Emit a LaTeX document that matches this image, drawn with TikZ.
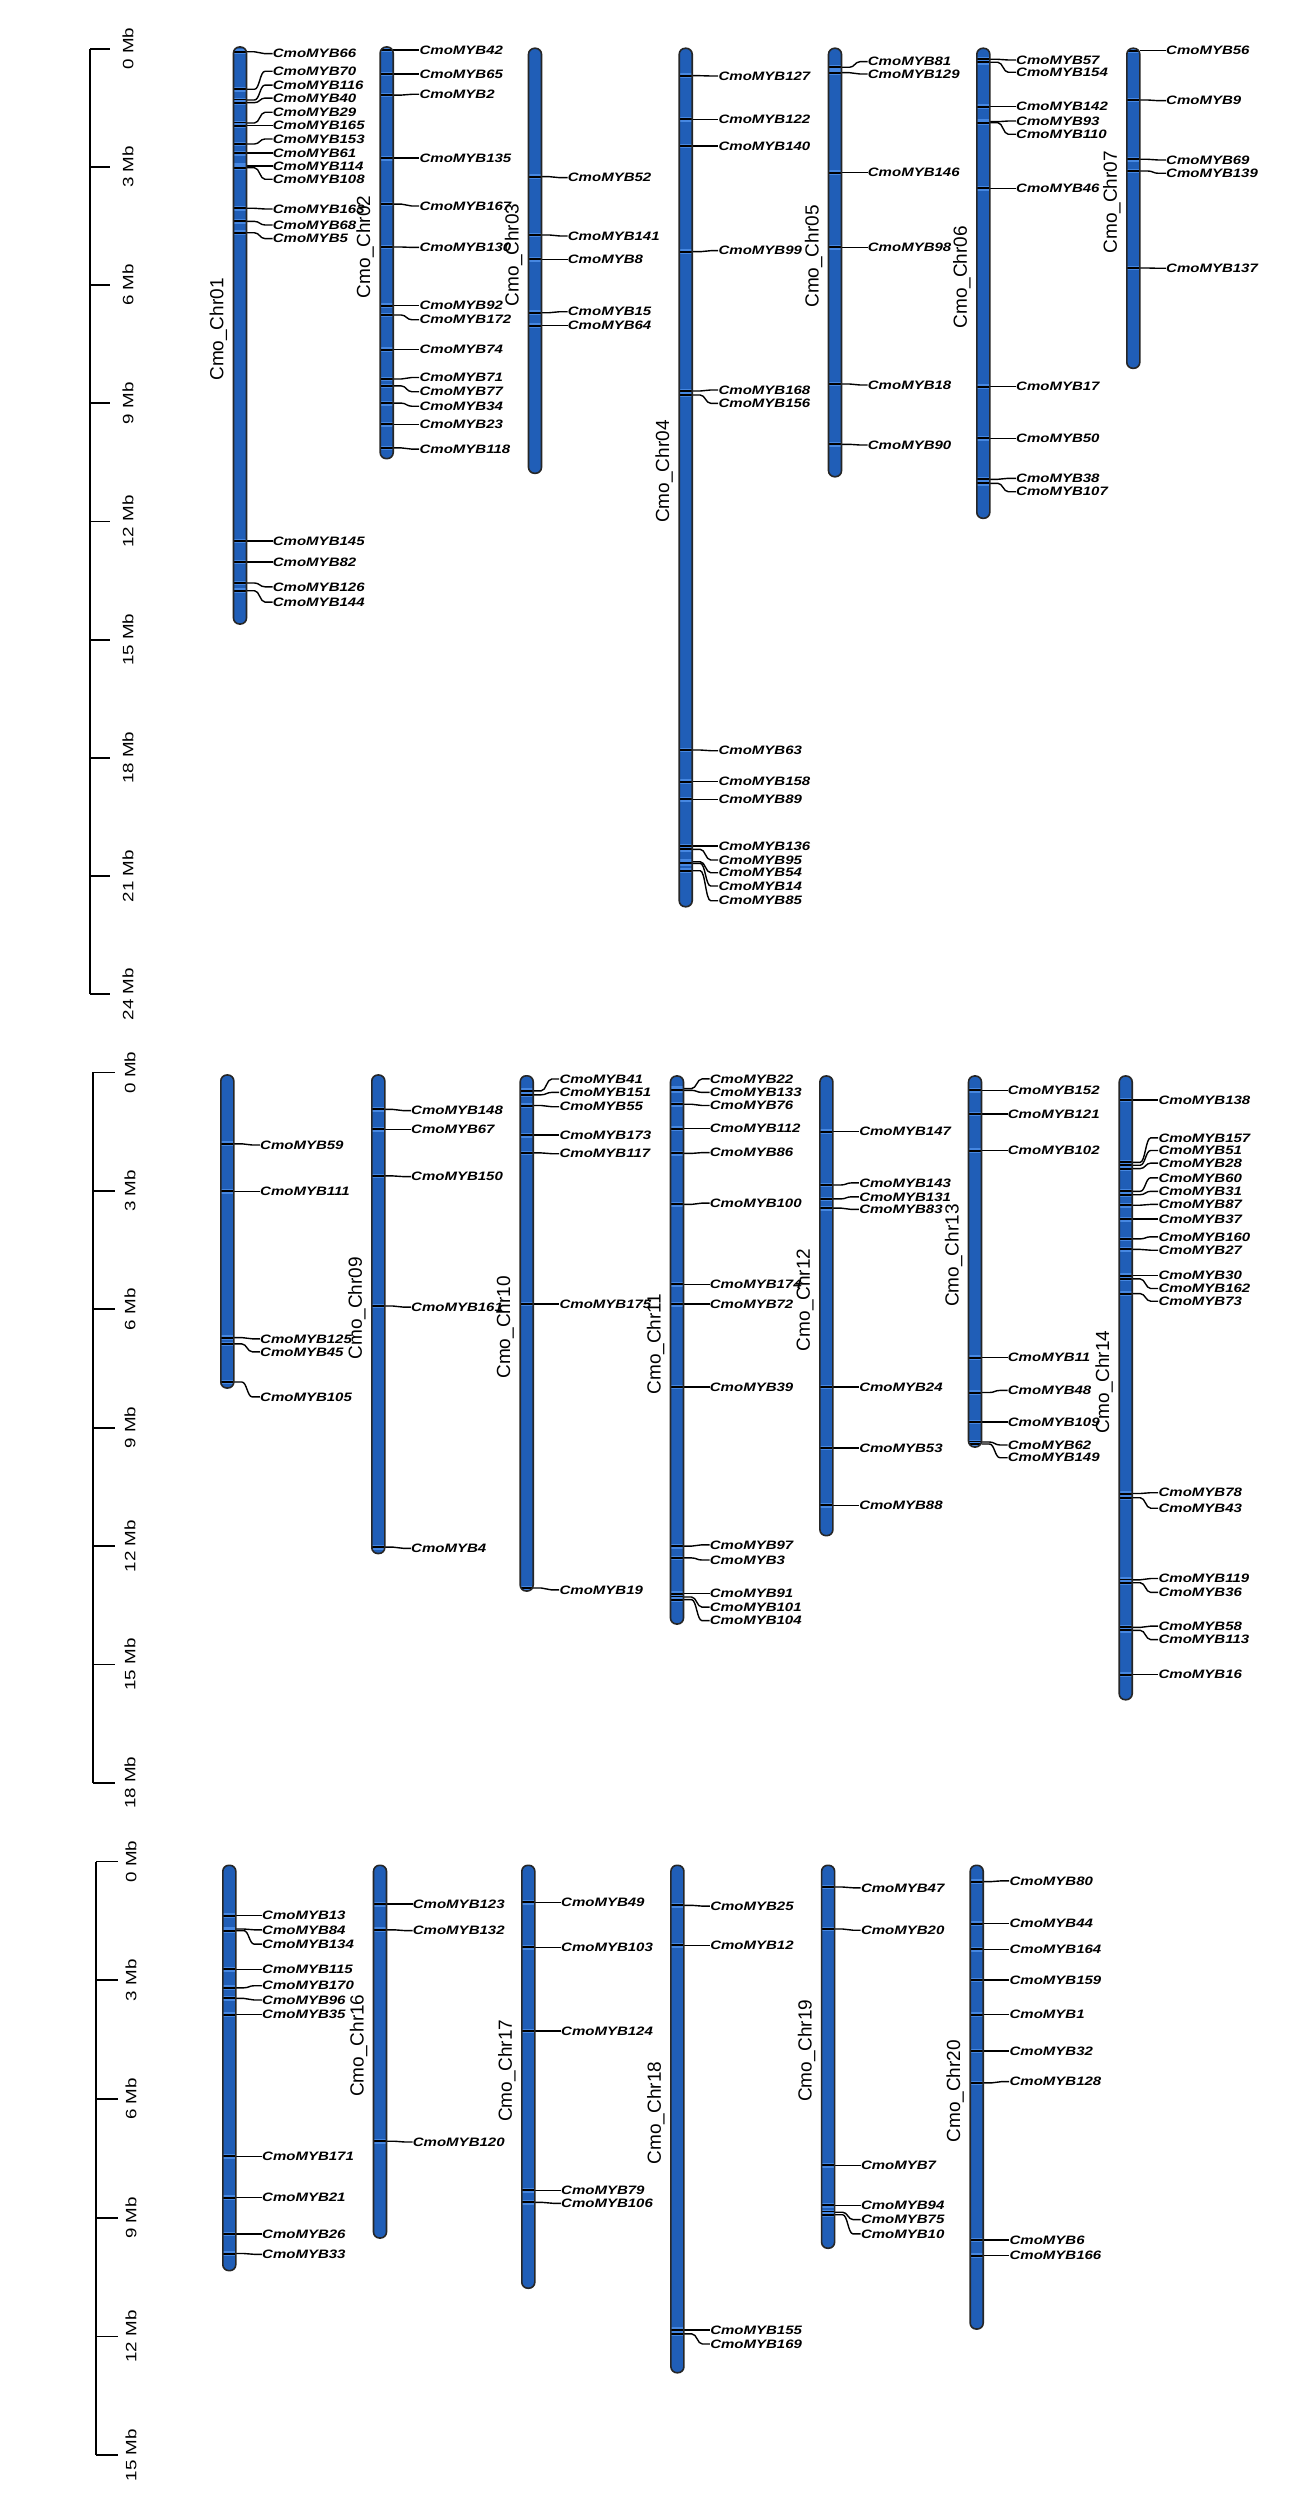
\documentclass[tikz,border=0pt]{standalone}
\usepackage{fontspec}
\newfontfamily\genefont[FakeStretch=1.23]{Liberation Sans}
\newfontfamily\chrfont{Liberation Sans}
\newfontfamily\axfont[FakeStretch=1.25]{Liberation Sans}
\definecolor{chrblue}{RGB}{32,94,183}
\definecolor{chrlight}{RGB}{70,135,225}
\tikzset{
  conn/.style={line width=0.7pt, black},
  band/.style={line width=1pt, black},
  chrline/.style={line width=0.8pt, black!85, rounded corners=3pt},
  genelab/.style={anchor=west, inner sep=0pt, font={\genefont\fontsize{6.1}{7}\selectfont\bfseries\itshape}},
  chrlab/.style={rotate=90, inner sep=0pt, font={\chrfont\fontsize{9.5}{10}\selectfont}},
  axlab/.style={rotate=90, inner sep=0pt, font={\axfont\fontsize{7.5}{8}\selectfont}},
  axisline/.style={line width=0.9pt, black}
}
\newcommand\chrbegin[3]{\def\mycx{#1}\def\mytop{#2}\def\mybot{#3}%
  \fill[chrblue, rounded corners=3pt] (#1-6.5,#2) rectangle (#1+6.5,#3);}
\newcommand\chrout{\draw[chrline] (\mycx-6.5,\mytop) rectangle (\mycx+6.5,\mybot);}
\newcommand\chrname[1]{\node[chrlab] (n#1) at (\mycx-21.5,{(\mytop+\mybot)/2-6}) {Cmo\_Chr#1};}
\newcommand\gene[3]{%
  \begin{scope}
    \clip[rounded corners=3pt] (\mycx-6.5,\mytop) rectangle (\mycx+6.5,\mybot);
    \fill[chrlight] (\mycx-6.5,#1-2.4) rectangle (\mycx+6.5,#1+2.4);
    \draw[band] (\mycx-6.5,#1) -- (\mycx+6.5,#1);
  \end{scope}
  \coordinate (c#3) at (\mycx+6.5,#1);
  \node[genelab] (g#3) at (\mycx+32.5,#2) {CmoMYB#3};
  \draw[conn] (c#3) -- (\mycx+14.5,#1) .. controls (\mycx+19.5,#1) and (\mycx+20,#2) .. (\mycx+25,#2) -- (g#3.west);
}
\begin{document}
\begin{tikzpicture}[x=0.5pt,y=-0.5pt]
\fill[white] (0,0) rectangle (1301,2515);
\useasboundingbox (0,0) rectangle (1301,2515);

% ---------- axes ----------
\draw[axisline] (90,48.7) -- (90,994.3);
\foreach \k in {0,...,8}{
  \draw[axisline] (90,48.7+118.2*\k) -- (110,48.7+118.2*\k);
  \pgfmathtruncatemacro\mb{3*\k}
  \node[axlab] (a1-\k) at (128,48.7+118.2*\k) {\mb\ Mb};
}
\draw[axisline] (93,1072.4) -- (93,1782.8);
\foreach \k in {0,...,6}{
  \draw[axisline] (93,1072.4+118.4*\k) -- (115,1072.4+118.4*\k);
  \pgfmathtruncatemacro\mb{3*\k}
  \node[axlab] (a2-\k) at (130,1072.4+118.4*\k) {\mb\ Mb};
}
\draw[axisline] (96,1861.5) -- (96,2455.3);
\foreach \k in {0,...,5}{
  \draw[axisline] (96,1861.5+118.76*\k) -- (118,1861.5+118.76*\k);
  \pgfmathtruncatemacro\mb{3*\k}
  \node[axlab] (a3-\k) at (131,1861.5+118.76*\k) {\mb\ Mb};
}

% ---------- panel 1 ----------
\chrbegin{240}{47}{624}
\gene{51.8}{53.7}{66}
\gene{89.3}{71.3}{70}
\gene{100}{85.1}{116}
\gene{102.7}{98.1}{40}
\gene{123}{112.3}{29}
\gene{125.7}{125.7}{165}
\gene{144}{139}{153}
\gene{153.2}{153.2}{61}
\gene{165.9}{165.9}{114}
\gene{167.8}{179.3}{108}
\gene{208.3}{209}{163}
\gene{221.4}{225}{68}
\gene{232.8}{238.6}{5}
\gene{541}{541}{145}
\gene{561.9}{561.9}{82}
\gene{583}{586.8}{126}
\gene{590.7}{602.1}{144}
\chrout\chrname{01}

\chrbegin{386.7}{47}{458.6}
\gene{49.9}{49.9}{42}
\gene{74}{74}{65}
\gene{95.1}{94.3}{2}
\gene{158.2}{158.2}{135}
\gene{204.1}{206}{167}
\gene{247}{247.4}{130}
\gene{305.5}{305.5}{92}
\gene{315}{319.7}{172}
\gene{349.6}{349.6}{74}
\gene{379}{377.5}{71}
\gene{385.9}{391.7}{77}
\gene{403.1}{406.2}{34}
\gene{424.2}{424.2}{23}
\gene{447.9}{449.1}{118}
\chrout\chrname{02}

\chrbegin{535}{48.3}{473.3}
\gene{176.7}{177.7}{52}
\gene{235}{236}{141}
\gene{259.3}{259.3}{8}
\gene{312.7}{311.7}{15}
\gene{325.7}{325.7}{64}
\chrout\chrname{03}

\chrbegin{685.7}{48.3}{906.7}
\gene{75.7}{76}{127}
\gene{119.3}{119.3}{122}
\gene{146}{146}{140}
\gene{251.7}{250.7}{99}
\gene{391}{390}{168}
\gene{395}{403.3}{156}
\gene{750}{750.7}{63}
\gene{781.7}{781.7}{158}
\gene{799.3}{799.3}{89}
\gene{846}{846}{136}
\gene{849.3}{860}{95}
\gene{861.7}{872.7}{54}
\gene{863.3}{886}{14}
\gene{870.7}{900.7}{85}
\chrout\chrname{04}

\chrbegin{835}{48.3}{476.7}
\gene{67.3}{61.7}{81}
\gene{72.7}{74}{129}
\gene{172.7}{172.7}{146}
\gene{247.3}{247.3}{98}
\gene{384}{385}{18}
\gene{444.3}{445}{90}
\chrout\chrname{05}

\chrbegin{983.3}{48.3}{518.3}
\gene{59.3}{60}{57}
\gene{62.3}{72.3}{154}
\gene{106.7}{106.7}{142}
\gene{121.7}{121}{93}
\gene{122.7}{134.3}{110}
\gene{188.3}{188.3}{46}
\gene{386.7}{386.7}{17}
\gene{438.3}{438.3}{50}
\gene{479.3}{478.3}{38}
\gene{483.3}{491.7}{107}
\chrout\chrname{06}

\chrbegin{1133.3}{48.3}{368.3}
\gene{50.7}{50.7}{56}
\gene{100}{100.7}{9}
\gene{159.3}{160}{69}
\gene{171}{173.3}{139}
\gene{268}{268.3}{137}
\chrout\chrname{07}

% ---------- panel 2 ----------
\chrbegin{227.3}{1075}{1388}
\gene{1143.8}{1145}{59}
\gene{1191.3}{1191.3}{111}
\gene{1337.6}{1338.8}{125}
\gene{1343.9}{1351.8}{45}
\gene{1382}{1396.9}{105}
\chrout

\chrbegin{378.3}{1075}{1553.5}
\gene{1109.4}{1110.6}{148}
\gene{1129.2}{1129.2}{67}
\gene{1175.9}{1176.6}{150}
\gene{1306}{1307.1}{161}
\gene{1547.1}{1548.3}{4}
\chrout\chrname{09}

\chrbegin{526.7}{1075.8}{1591}
\gene{1090.8}{1079}{41}
\gene{1094.8}{1092.4}{151}
\gene{1105.5}{1106.7}{55}
\gene{1135.1}{1135.1}{173}
\gene{1152.9}{1153.7}{117}
\gene{1304}{1304}{175}
\gene{1588}{1589.9}{19}
\chrout\chrname{10}

\chrbegin{677}{1076}{1624}
\gene{1088.6}{1078.9}{22}
\gene{1090.3}{1092.4}{133}
\gene{1104.2}{1105.5}{76}
\gene{1128.6}{1128.6}{112}
\gene{1153.4}{1152.6}{86}
\gene{1204.4}{1203.1}{100}
\gene{1284.3}{1284.3}{174}
\gene{1304.1}{1304.1}{72}
\gene{1387}{1387}{39}
\gene{1546.1}{1544.8}{97}
\gene{1557.9}{1560}{3}
\gene{1593.7}{1593.7}{91}
\gene{1597}{1607.1}{101}
\gene{1599.6}{1620.6}{104}
\chrout\chrname{11}

\chrbegin{826.4}{1076}{1535.6}
\gene{1131.5}{1131.5}{147}
\gene{1185}{1182.9}{143}
\gene{1198.9}{1196.8}{131}
\gene{1208.1}{1209.4}{83}
\gene{1387}{1387}{24}
\gene{1448}{1448}{53}
\gene{1505.3}{1505.3}{88}
\chrout\chrname{12}

\chrbegin{975}{1076}{1447}
\gene{1090.3}{1090.3}{152}
\gene{1113.9}{1113.9}{121}
\gene{1150.5}{1150.5}{102}
\gene{1357.6}{1357.6}{11}
\gene{1392.5}{1390.4}{48}
\gene{1422}{1422}{109}
\gene{1442}{1445}{62}
\gene{1444}{1457.7}{149}
\chrout\chrname{13}

\chrbegin{1125.7}{1076}{1699.7}
\gene{1100}{1100}{138}
\gene{1162.3}{1137.9}{157}
\gene{1165.2}{1150.5}{51}
\gene{1168.6}{1163.1}{28}
\gene{1191.3}{1177.8}{60}
\gene{1194.7}{1191.3}{31}
\gene{1205.2}{1204.4}{87}
\gene{1219.1}{1219.1}{37}
\gene{1238.9}{1236.8}{160}
\gene{1249.4}{1250.2}{27}
\gene{1275.5}{1275.5}{30}
\gene{1278.9}{1288.5}{162}
\gene{1293.6}{1301.2}{73}
\gene{1493.5}{1492.7}{78}
\gene{1497.7}{1508.2}{43}
\gene{1579.8}{1578.5}{119}
\gene{1582.7}{1592.4}{36}
\gene{1627.4}{1626.1}{58}
\gene{1630.3}{1639.6}{113}
\gene{1674.5}{1674.5}{16}
\chrout\chrname{14}

% ---------- panel 3 ----------
\chrbegin{229.3}{1865.3}{2270.6}
\gene{1915.5}{1915.5}{13}
\gene{1929}{1929.8}{84}
\gene{1930.6}{1944.1}{134}
\gene{1969.4}{1969.4}{115}
\gene{1987.8}{1985.7}{170}
\gene{1998.4}{2000}{96}
\gene{2014.7}{2014.7}{35}
\gene{2156.3}{2156.3}{171}
\gene{2197.6}{2197.6}{21}
\gene{2233.9}{2233.9}{26}
\gene{2253.5}{2254.3}{33}
\chrout

\chrbegin{380}{1865.3}{2238}
\gene{1904.1}{1904.1}{123}
\gene{1929.8}{1930.6}{132}
\gene{2141.2}{2142}{120}
\chrout\chrname{16}

\chrbegin{528.3}{1865.3}{2288.2}
\gene{1902.4}{1902.4}{49}
\gene{1947.3}{1947.3}{103}
\gene{2031}{2031}{124}
\gene{2190.2}{2190.2}{79}
\gene{2202.4}{2203.3}{106}
\chrout\chrname{17}

\chrbegin{677.4}{1865.3}{2372.7}
\gene{1905.3}{1906.1}{25}
\gene{1945.3}{1945.3}{12}
\gene{2329.8}{2329.8}{155}
\gene{2333.9}{2344}{169}
\chrout\chrname{18}

\chrbegin{828.1}{1865.3}{2248.2}
\gene{1887}{1887.8}{47}
\gene{1929}{1930.2}{20}
\gene{2165.3}{2165.3}{7}
\gene{2205.3}{2205.3}{94}
\gene{2212.2}{2219.6}{75}
\gene{2214.7}{2233.9}{10}
\chrout\chrname{19}

\chrbegin{976.7}{1865.3}{2329}
\gene{1881.6}{1880.8}{80}
\gene{1923.7}{1923.7}{44}
\gene{1949.4}{1949.4}{164}
\gene{1980}{1980}{159}
\gene{2014.7}{2014.7}{1}
\gene{2051}{2051}{32}
\gene{2082.9}{2081.6}{128}
\gene{2240}{2240}{6}
\gene{2255.5}{2255.5}{166}
\chrout\chrname{20}
\end{tikzpicture}
\end{document}
